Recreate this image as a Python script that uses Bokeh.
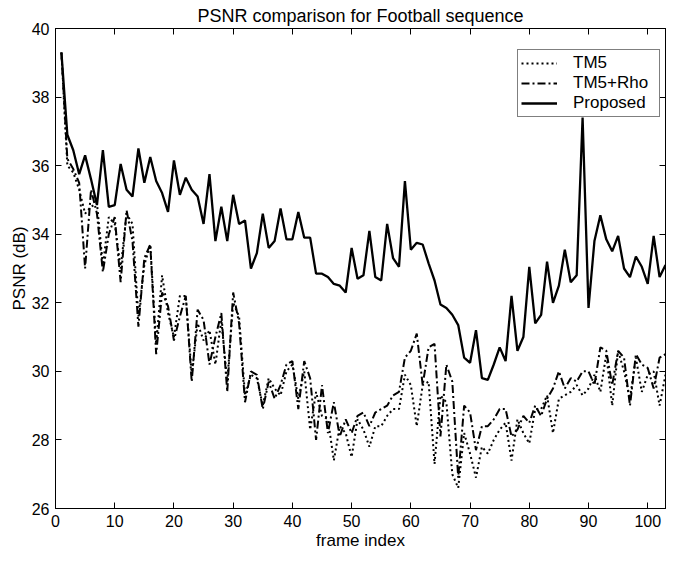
from bokeh.plotting import figure
from bokeh.models import LinearAxis, FixedTicker, Range1d, Legend, LegendItem
from bokeh.embed import file_html
from bokeh.resources import INLINE

frames = list(range(1, 104))

tm5 = [
    39.3, 36.0, 35.8, 35.3, 34.6, 34.8, 34.9, 33.1, 34.5, 34.3,
    33.0, 34.6, 34.3, 31.6, 33.1, 33.7, 30.8, 32.8, 31.7, 31.0,
    32.2, 32.2, 29.9, 31.4, 30.9, 31.2, 30.2, 31.5, 29.7, 32.0,
    31.6, 29.3, 29.9, 29.8, 29.0, 29.8, 29.5, 29.3, 30.0, 30.2,
    29.2, 30.0, 28.3, 29.4, 28.7, 28.6, 27.4, 28.4, 28.2, 27.5,
    28.6, 28.3, 27.8, 28.4, 28.4, 28.7, 28.9, 28.9, 29.9, 29.6,
    28.4, 29.6, 29.7, 27.3, 29.3, 29.1, 27.0, 26.6, 28.2, 27.6,
    26.9, 27.8, 27.6, 28.0, 28.3, 28.5, 27.4, 28.6, 28.2, 27.9,
    28.9, 28.9, 29.3, 28.2, 29.2, 29.3, 29.4, 29.6, 29.3, 29.5,
    29.9, 29.4, 30.5, 29.0, 30.6, 30.0, 29.2, 30.4, 29.4, 29.9,
    30.0, 29.0, 29.9,
]

tm5_rho = [
    39.3, 36.2, 35.9, 35.5, 33.0, 35.3, 34.6, 32.9, 34.0, 34.5,
    32.6, 34.7, 33.8, 31.3, 33.3, 33.7, 30.5, 32.3, 31.9, 30.9,
    31.6, 32.2, 29.7, 31.8, 31.5, 30.2, 31.0, 31.7, 29.4, 32.3,
    31.4, 29.1, 30.0, 29.9, 28.9, 29.7, 29.2, 29.6, 30.2, 30.3,
    28.9, 30.3, 29.8, 28.0, 29.6, 28.2, 29.1, 28.1, 28.6, 28.2,
    28.7, 28.8, 28.4, 28.8, 28.9, 29.0, 29.3, 29.4, 30.4, 30.6,
    31.1, 29.6, 30.7, 30.8, 28.1, 30.2, 29.7, 26.9, 29.0, 28.8,
    27.7, 28.4, 28.4, 28.6, 28.9, 28.9, 28.1, 28.3, 28.7, 28.5,
    29.0, 28.7, 29.2, 29.5, 30.0, 29.5, 29.8, 29.7, 30.0, 30.0,
    29.6, 30.7, 30.6, 29.6, 30.6, 30.4, 29.0, 30.5, 30.2, 30.1,
    29.5, 30.4, 30.5,
]

proposed = [
    39.3, 36.9, 36.45, 35.75, 36.3, 35.6, 34.85, 36.45, 34.8, 34.85,
    36.05, 35.3, 35.1, 36.5, 35.5, 36.25, 35.55, 35.2, 34.65, 36.15,
    35.15, 35.65, 35.3, 35.1, 34.3, 35.75, 33.8, 34.8, 33.8, 35.15,
    34.3, 34.4, 33.0, 33.45, 34.6, 33.6, 33.8, 34.75, 33.85, 33.85,
    34.65, 33.9, 33.9, 32.85, 32.85, 32.75, 32.55, 32.5, 32.3, 33.6,
    32.7, 32.8, 34.1, 32.75, 32.65, 34.3, 33.3, 33.05, 35.55, 33.55,
    33.75, 33.7, 33.15, 32.65, 31.95, 31.85, 31.65, 31.35, 30.4, 30.25,
    31.2, 29.8, 29.75, 30.2, 30.7, 30.3, 32.2, 30.6, 31.0, 33.05,
    31.4, 31.65, 33.2, 32.0, 32.5, 33.55, 32.6, 32.8, 37.4, 31.85,
    33.8, 34.55, 33.85, 33.5, 33.95, 33.0, 32.75, 33.35, 33.05, 32.55,
    33.95, 32.75, 33.1,
]

x_ticks = list(range(0, 101, 10))
y_ticks = list(range(26, 41, 2))

FONT = "Liberation Sans"

p = figure(width=666, height=553, output_backend="svg", toolbar_location=None,
           x_range=Range1d(0, 103), y_range=Range1d(26, 40),
           min_border_left=55, min_border_right=1, min_border_top=27,
           min_border_bottom=45)

p.title.text = "PSNR comparison for Football sequence"
p.title.align = "center"
p.title.text_font = FONT
p.title.text_font_size = "18px"
p.title.text_font_style = "normal"
p.title.text_color = "black"
p.title.standoff = 6

p.xgrid.visible = False
p.ygrid.visible = False
p.outline_line_color = "black"
p.outline_line_width = 1
p.background_fill_color = "white"
p.border_fill_color = "white"

for ax, ticks in ((p.xaxis[0], x_ticks), (p.yaxis[0], y_ticks)):
    ax.ticker = FixedTicker(ticks=ticks)
    ax.major_tick_in = 6
    ax.major_tick_out = 0
    ax.minor_tick_in = 0
    ax.minor_tick_out = 0
    ax.major_label_standoff = 6
    ax.major_label_text_font = FONT
    ax.major_label_text_font_size = "16px"
    ax.major_label_text_color = "black"
    ax.axis_line_color = "black"
    ax.major_tick_line_color = "black"
    ax.axis_label_text_font = FONT
    ax.axis_label_text_font_size = "17px"
    ax.axis_label_text_font_style = "normal"
    ax.axis_label_text_color = "black"

p.xaxis.axis_label = "frame index"
p.xaxis.axis_label_standoff = 1
p.yaxis.axis_label = "PSNR (dB)"
p.yaxis.axis_label_standoff = 0

for loc, ticks in (("above", x_ticks), ("right", y_ticks)):
    ax = LinearAxis(ticker=FixedTicker(ticks=ticks), major_tick_in=6, major_tick_out=0,
                    minor_tick_in=0, minor_tick_out=0, major_label_standoff=0,
                    major_label_text_font_size="0px", major_label_text_color=None,
                    major_label_text_alpha=0, axis_line_color="black",
                    major_tick_line_color="black")
    p.add_layout(ax, loc)

r1 = p.line(frames, tm5, line_color="black", line_width=2, line_dash="2 3")
r2 = p.line(frames, tm5_rho, line_color="black", line_width=2, line_dash="8 3 2 3")
r3 = p.line(frames, proposed, line_color="black", line_width=2.3)

legend = Legend(items=[LegendItem(label="TM5", renderers=[r1]),
                       LegendItem(label="TM5+Rho", renderers=[r2]),
                       LegendItem(label="Proposed", renderers=[r3])],
                location=(462, 391))
legend.padding = 3
legend.margin = 0
legend.spacing = 0
legend.glyph_width = 36
legend.glyph_height = 16
legend.label_height = 16
legend.label_width = 83
legend.label_standoff = 16
legend.label_text_font = FONT
legend.label_text_font_size = "17px"
legend.label_text_color = "black"
legend.border_line_color = "black"
legend.border_line_width = 1
legend.background_fill_color = "white"
legend.background_fill_alpha = 1
p.add_layout(legend)

open("out.html", "w").write(file_html(p, INLINE))
